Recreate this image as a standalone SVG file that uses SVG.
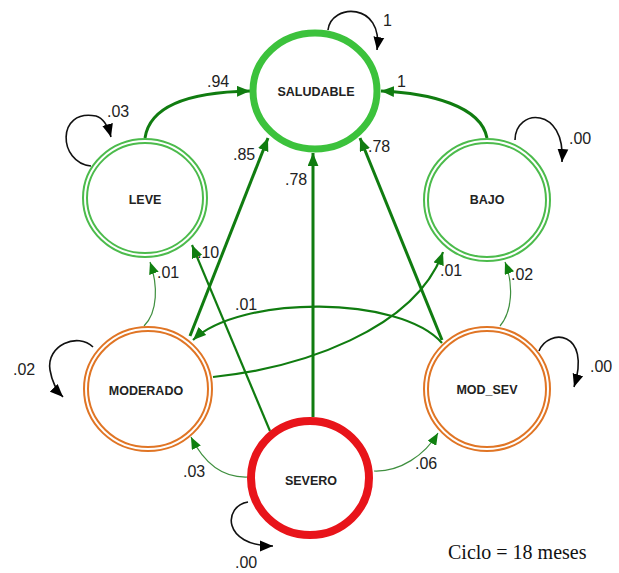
<svg xmlns="http://www.w3.org/2000/svg" width="619" height="573" viewBox="0 0 619 573">
  <defs>
    <style>
      .num { font-family: "Liberation Sans", Arial, sans-serif; font-size: 16px; fill: #222; }
      .lbl { font-family: "Liberation Sans", Arial, sans-serif; font-size: 12.5px; font-weight: bold; fill: #222; text-anchor: middle; }
      .note { font-family: "Liberation Serif", "Times New Roman", serif; font-size: 20px; fill: #111; }
      .thick { fill: none; stroke: #107c10; stroke-width: 3; marker-end: url(#ah); }
      .mid { fill: none; stroke: #107c10; stroke-width: 2.2; marker-end: url(#ah); }
      .thin { fill: none; stroke: #3f8f3f; stroke-width: 1.2; marker-end: url(#ahl); }
      .loop { fill: none; stroke: #111; stroke-width: 1.6; marker-end: url(#ahk); }
      .healthy { fill: #fff; stroke: #3cc23c; stroke-width: 7; }
      .severe { fill: #fff; stroke: #e8141a; stroke-width: 8; }
      .dbl-green { fill: #fff; stroke: #4cbb4c; stroke-width: 6; }
      .dbl-orange { fill: #fff; stroke: #e07525; stroke-width: 6; }
      .gap { fill: none; stroke: #fff; stroke-width: 2; }
    </style>
    <marker id="ah" viewBox="0 0 12 10" refX="12" refY="5" markerWidth="13" markerHeight="11" orient="auto" markerUnits="userSpaceOnUse">
      <path d="M0,0 L12,5 L0,10 z" fill="#107c10"/>
    </marker>
    <marker id="ahl" viewBox="0 0 12 10" refX="12" refY="5" markerWidth="12" markerHeight="10" orient="auto" markerUnits="userSpaceOnUse">
      <path d="M0,0 L12,5 L0,10 z" fill="#108010"/>
    </marker>
    <marker id="ahk" viewBox="0 0 12 10" refX="12" refY="5" markerWidth="13" markerHeight="12" orient="auto" markerUnits="userSpaceOnUse">
      <path d="M0,0 L12,5 L0,10 z" fill="#000"/>
    </marker>
  </defs>

  <rect width="619" height="573" fill="#fff"/>

  <!-- transitions between states -->
  <g id="connectors">
    <path class="thick" d="M145,138 C150,104 195,92 250,91"/>
    <path class="thick" d="M487,138 C481,106 430,93 381,91"/>
    <path class="thick" d="M190,336 L268,138"/>
    <path class="thick" d="M313,417 L313,153"/>
    <path class="thick" d="M442,340 L360,138"/>
    <path class="mid" d="M270,431 L192,245"/>
    <path class="mid" d="M442,343 C400,295 240,295 193,340"/>
    <path class="mid" d="M213,377 C300,368 415,330 443,252"/>
    <path class="thin" d="M144,326 C158,312 158,285 150,262"/>
    <path class="thin" d="M500,326 C512,312 514,285 505,262"/>
    <path class="thin" d="M248,477 C225,478 205,465 191,437"/>
    <path class="thin" d="M374,471 C400,472 425,455 438,433"/>

    <!-- self transitions -->
    <path class="loop" d="M328,30 C331,3 384,2 377,50"/>
    <path class="loop" d="M91,166 C58,163 56,108 96,116 C103,118 108,126 111,137"/>
    <path class="loop" d="M515,140 C515,108 566,106 562,162"/>
    <path class="loop" d="M93,347 C78,332 46,345 50,370 C52,382 56,390 63,397"/>
    <path class="loop" d="M539,351 C548,328 592,330 574,387"/>
    <path class="loop" d="M248,502 C223,506 222,546 273,546"/>

    <!-- probabilities -->
    <text class="num" x="207" y="87">.94</text>
    <text class="num" x="397" y="87">1</text>
    <text class="num" x="233" y="160">.85</text>
    <text class="num" x="285" y="185">.78</text>
    <text class="num" x="368" y="152">.78</text>
    <text class="num" x="197" y="258">.10</text>
    <text class="num" x="157" y="278">.01</text>
    <text class="num" x="440" y="276">.01</text>
    <text class="num" x="511" y="280">.02</text>
    <text class="num" x="235" y="310">.01</text>
    <text class="num" x="183" y="477">.03</text>
    <text class="num" x="415" y="469">.06</text>
    <text class="num" x="383" y="26">1</text>
    <text class="num" x="107" y="117">.03</text>
    <text class="num" x="569" y="144">.00</text>
    <text class="num" x="13" y="375">.02</text>
    <text class="num" x="590" y="372">.00</text>
    <text class="num" x="235" y="568">.00</text>
  </g>

  <!-- states -->
  <g id="saludable">
    <ellipse class="healthy" cx="315" cy="91" rx="62" ry="58"/>
    <text class="lbl" x="316" y="96">SALUDABLE</text>
  </g>
  <g id="leve">
    <ellipse class="dbl-green" cx="145" cy="198" rx="60" ry="57"/>
    <ellipse class="gap" cx="145" cy="198" rx="60" ry="57"/>
    <text class="lbl" x="145" y="204">LEVE</text>
  </g>
  <g id="bajo">
    <ellipse class="dbl-green" cx="487" cy="200" rx="61" ry="59"/>
    <ellipse class="gap" cx="487" cy="200" rx="61" ry="59"/>
    <text class="lbl" x="487" y="204">BAJO</text>
  </g>
  <g id="moderado">
    <ellipse class="dbl-orange" cx="148" cy="389" rx="62" ry="60"/>
    <ellipse class="gap" cx="148" cy="389" rx="62" ry="60"/>
    <text class="lbl" x="146" y="395">MODERADO</text>
  </g>
  <g id="mod_sev">
    <ellipse class="dbl-orange" cx="487" cy="389" rx="61" ry="60"/>
    <ellipse class="gap" cx="487" cy="389" rx="61" ry="60"/>
    <text class="lbl" x="487" y="394">MOD_SEV</text>
  </g>
  <g id="severo">
    <ellipse class="severe" cx="310" cy="478" rx="59" ry="57"/>
    <text class="lbl" x="311" y="485">SEVERO</text>
  </g>

  <text class="note" x="448" y="559">Ciclo = 18 meses</text>
</svg>
